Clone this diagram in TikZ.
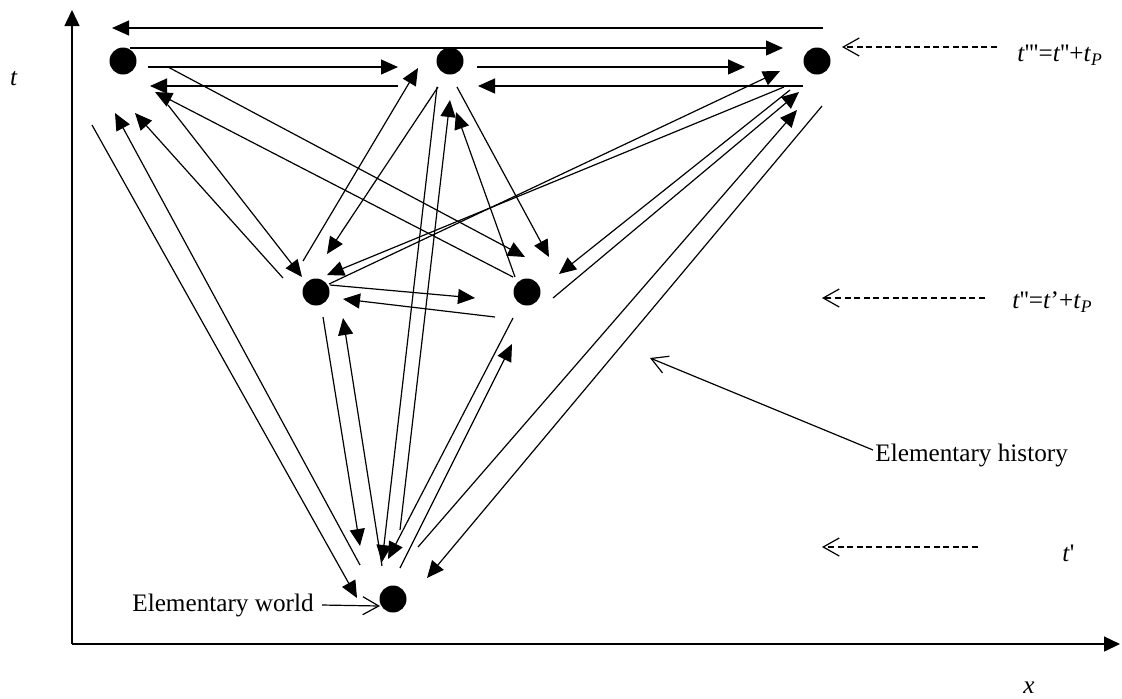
\documentclass[tikz,border=0pt]{standalone}
\usepackage{fontspec}
\setmainfont{Liberation Serif}
\usetikzlibrary{arrows.meta, calc}

\begin{document}
\begin{tikzpicture}[
  x=0.5pt, y=-0.5pt,
  font=\fontsize{12.6}{15}\selectfont,
  dot/.style   ={circle, fill=black, inner sep=0pt, minimum size=13.5pt},
  flow/.style  ={-{Triangle[length=8.5pt, width=7.5pt]}, line width=0.6pt},
  axis/.style  ={-{Triangle[length=8pt, width=7.5pt]}, line width=0.7pt},
  guide/.style ={-{Straight Barb[length=8pt, width=9pt]}, dash pattern=on 3pt off 1.8pt, line width=0.6pt},
  pointer/.style={-{Straight Barb[length=8pt, width=9pt]}, line width=0.6pt},
  lbl/.style   ={inner sep=0pt},
]
\useasboundingbox (0,0) rectangle (1122,698);
% ----- axes -----
\coordinate (O) at (72,644);
\coordinate (ytip) at (72,10);
\coordinate (xtip) at (1120,644);
\draw[axis] (O) -- (ytip);
\draw[axis] (O) -- (xtip);
\node[lbl] (tlab) at (14,79) {\textit{t}};
\node[lbl] (xlab) at (1029,688) {\textit{x}};
% ----- elementary worlds -----
\node[dot] (A) at (123,61)  {};
\node[dot] (B) at (450,61)  {};
\node[dot] (C) at (817,61)  {};
\node[dot] (D) at (316,292) {};
\node[dot] (E) at (527,292) {};
\node[dot] (F) at (393,599) {};
% ----- top row -----
\draw[flow] ($(A)+(25,6)$)   -- ($(B)+(-52,6)$);
\draw[flow] ($(B)+(-52,25)$) -- ($(A)+(27,25)$);
\draw[flow] ($(A)+(7,-13)$)  -- ($(C)+(-34,-13)$);
\draw[flow] ($(C)+(6,-33)$)  -- ($(A)+(-11,-33)$);
\draw[flow] ($(B)+(27,6)$)   -- ($(C)+(-72,6)$);
\draw[flow] ($(C)+(-14,25)$) -- ($(B)+(28,25)$);
% ----- from A -----
\draw[flow] ($(A)+(45,44)$)  -- ($(D)+(-14,-15)$);
\draw[flow] ($(D)+(-33,-14)$) -- ($(A)+(12,52)$);
\draw[flow] ($(A)+(45,6)$)   -- ($(E)+(-2,-35)$);
\draw[flow] ($(E)+(-14,-15)$) -- ($(A)+(32,31)$);
\draw[flow] ($(A)+(-31,64)$) -- ($(F)+(-36,-1)$);
\draw[flow] ($(F)+(-33,-34)$) -- ($(A)+(-8,52)$);
% ----- from B -----
\draw[flow] ($(B)+(-12,26)$) -- ($(D)+(11,-38)$);
\draw[flow] ($(D)+(-13,-31)$) -- ($(B)+(-32,7)$);
\draw[flow] ($(B)+(7,26)$)   -- ($(E)+(22,-35)$);
\draw[flow] ($(E)+(-12,-15)$) -- ($(B)+(6,51)$);
\draw[flow] ($(B)+(-13,26)$) -- ($(F)+(-11,-37)$);
\draw[flow] ($(F)+(7,-69)$)  -- ($(B)+(0,39)$);
% ----- from C -----
\draw[flow] ($(C)+(-33,26)$) -- ($(D)+(11,-17)$);
\draw[flow] ($(D)+(13,-8)$)  -- ($(C)+(-37,10)$);
\draw[flow] ($(C)+(-27,29)$) -- ($(E)+(32,-18)$);
\draw[flow] ($(E)+(26,6)$)   -- ($(C)+(-18,31)$);
\draw[flow] ($(C)+(5,45)$)   -- ($(F)+(34,-21)$);
\draw[flow] ($(F)+(25,-52)$) -- ($(C)+(-20,49)$);
% ----- middle and bottom -----
\draw[flow] ($(D)+(14,-7)$)  -- ($(E)+(-52,6)$);
\draw[flow] ($(E)+(-32,25)$) -- ($(D)+(27,7)$);
\draw[flow] ($(D)+(7,25)$)   -- ($(F)+(-33,-53)$);
\draw[flow] ($(F)+(-11,-33)$) -- ($(D)+(27,26)$);
\draw[flow] ($(E)+(-14,26)$) -- ($(F)+(-5,-40)$);
\draw[flow] ($(F)+(7,-31)$)  -- ($(E)+(-15,52)$);
% ----- time levels -----
\node[lbl, anchor=west] (L3) at (1017,55) {\textit{t}\textquotesingle\textquotesingle\textquotesingle=\textit{t}\textquotesingle\textquotesingle+\textit{t}\textsubscript{\textit{P}}};
\node[lbl, anchor=west] (L2) at (1012,302) {\textit{t}\textquotesingle\textquotesingle=\textit{t}’+\textit{t}\textsubscript{\textit{P}}};
\node[lbl, anchor=west] (L1) at (1062,553) {\textit{t}\textquotesingle};
\coordinate (g3) at (842,47);
\coordinate (g2) at (822,298);
\coordinate (g1) at (822,547);
\draw[guide] ($(L3.west)+(-20,-8)$) -- (g3);
\draw[guide] ($(L2.west)+(-27,-4)$) -- (g2);
\draw[guide] ($(L1.west)+(-84,-6)$) -- (g1);
% ----- labels -----
\node[lbl, anchor=west] (H) at (875,455) {Elementary history};
\coordinate (hTip) at (650,358);
\draw[pointer] ($(H.west)+(-2,-5)$) -- (hTip);
\node[lbl, anchor=east] (W) at (314,605) {Elementary world};
\draw[pointer] ($(W.east)+(8,0)$) -- ($(F)+(-13,7)$);
\end{tikzpicture}
\end{document}
